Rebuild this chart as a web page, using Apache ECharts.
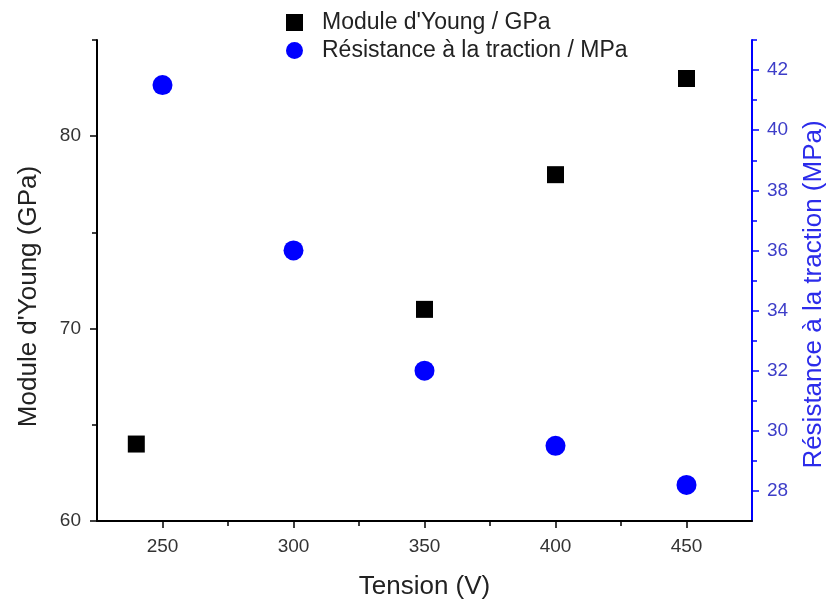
<!DOCTYPE html>
<html>
<head>
<meta charset="utf-8">
<script src="https://cdn.jsdelivr.net/npm/echarts@6/dist/echarts.min.js"></script>
<style>html,body{margin:0;padding:0;background:#fff}#c{width:827px;height:600px}</style>
</head>
<body>
<div id="c"></div>
<script>
// Data
const youngName = "Module d'Young / GPa";
const tractionName = "Résistance à la traction / MPa";
const youngX = [240, 350, 400, 450];
const youngY = [64.0, 71.0, 78.0, 83.0];
const tractionX = [250, 300, 350, 400, 450];
const tractionY = [41.5, 36.0, 32.0, 29.5, 28.2];
const xTicks = [250, 300, 350, 400, 450];
const xMinorTicks = [275, 325, 375, 425];
const leftTicks = [60, 70, 80];
const leftMinorTicks = [65, 75, 85];
const rightTicks = [28, 30, 32, 34, 36, 38, 40, 42];
const rightMinorTicks = [29, 31, 33, 35, 37, 39, 41, 43];

const FONT = 'Liberation Sans, Arial, sans-serif';
const BLUE = '#0000ff';

const chart = echarts.init(document.getElementById('c'), null, {renderer: 'canvas'});

function minorAxis(base, vals, len, color) {
  return Object.assign({}, base, {
    name: '',
    axisLine: {show: false},
    axisLabel: {show: false},
    splitLine: {show: false},
    axisTick: {show: true, inside: false, length: len, customValues: vals, lineStyle: {color: color, width: 1.5}}
  });
}

const xBase = {type: 'value', min: 225, max: 475, position: 'bottom'};
const lBase = {type: 'value', min: 60, max: 85, position: 'left'};
const rBase = {type: 'value', min: 27, max: 43, position: 'right'};

const option = {
  backgroundColor: '#fff',
  animation: false,
  grid: {left: 97, right: 75, top: 40, bottom: 79, containLabel: false, outerBoundsMode: 'none'},
  legend: {
    orient: 'vertical', left: 281, top: 6, itemGap: 5,
    itemWidth: 17, itemHeight: 17,
    textStyle: {fontFamily: FONT, fontSize: 23, lineHeight: 22, color: '#222', padding: [0, 0, 0, 14]},
    data: [
      {name: youngName, icon: 'rect'},
      {name: tractionName, icon: 'circle'}
    ]
  },
  xAxis: [
    Object.assign({}, xBase, {
      name: 'Tension (V)', nameLocation: 'middle', nameGap: 53,
      nameTextStyle: {fontFamily: FONT, fontSize: 26, color: '#222'},
      axisLine: {show: true, onZero: false, lineStyle: {color: '#000', width: 2}},
      axisTick: {show: true, inside: false, length: 7, customValues: xTicks, lineStyle: {color: '#000', width: 1.5}},
      axisLabel: {show: true, customValues: xTicks, margin: 16, fontFamily: FONT, fontSize: 19, color: '#333'},
      splitLine: {show: false}
    }),
    minorAxis(xBase, xMinorTicks, 5, '#000')
  ],
  yAxis: [
    Object.assign({}, lBase, {
      name: "Module d'Young (GPa)", nameLocation: 'middle', nameGap: 55, nameRotate: 90,
      nameTextStyle: {fontFamily: FONT, fontSize: 26, color: '#222', padding: [0, 32, 0, 0]},
      axisLine: {show: true, onZero: false, lineStyle: {color: '#000', width: 2}},
      axisTick: {show: true, inside: false, length: 7, customValues: leftTicks, lineStyle: {color: '#000', width: 1.5}},
      axisLabel: {show: true, customValues: leftTicks, margin: 16, fontFamily: FONT, fontSize: 19, color: '#333'},
      splitLine: {show: false}
    }),
    Object.assign({}, rBase, {
      name: 'Résistance à la traction (MPa)', nameLocation: 'middle', nameGap: 49, nameRotate: 90,
      nameTextStyle: {fontFamily: FONT, fontSize: 26, color: '#2b2bea', padding: [0, 28, 0, 0]},
      axisLine: {show: true, onZero: false, lineStyle: {color: BLUE, width: 2}},
      axisTick: {show: true, inside: false, length: 7, customValues: rightTicks, lineStyle: {color: BLUE, width: 1.5}},
      axisLabel: {show: true, customValues: rightTicks, margin: 15, fontFamily: FONT, fontSize: 19, color: '#3d3dc8'},
      splitLine: {show: false}
    }),
    minorAxis(lBase, leftMinorTicks, 5, '#000'),
    minorAxis(rBase, rightMinorTicks, 5, BLUE)
  ],
  series: [
    {
      name: youngName, type: 'scatter', xAxisIndex: 0, yAxisIndex: 0,
      symbol: 'rect', symbolSize: 17,
      itemStyle: {color: '#000', opacity: 1},
      data: youngX.map((x, i) => [x, youngY[i]])
    },
    {
      name: tractionName, type: 'scatter', xAxisIndex: 0, yAxisIndex: 1,
      symbol: 'circle', symbolSize: 20,
      itemStyle: {color: BLUE, opacity: 1},
      data: tractionX.map((x, i) => [x, tractionY[i]])
    }
  ]
};
chart.setOption(option);
</script>
</body>
</html>
